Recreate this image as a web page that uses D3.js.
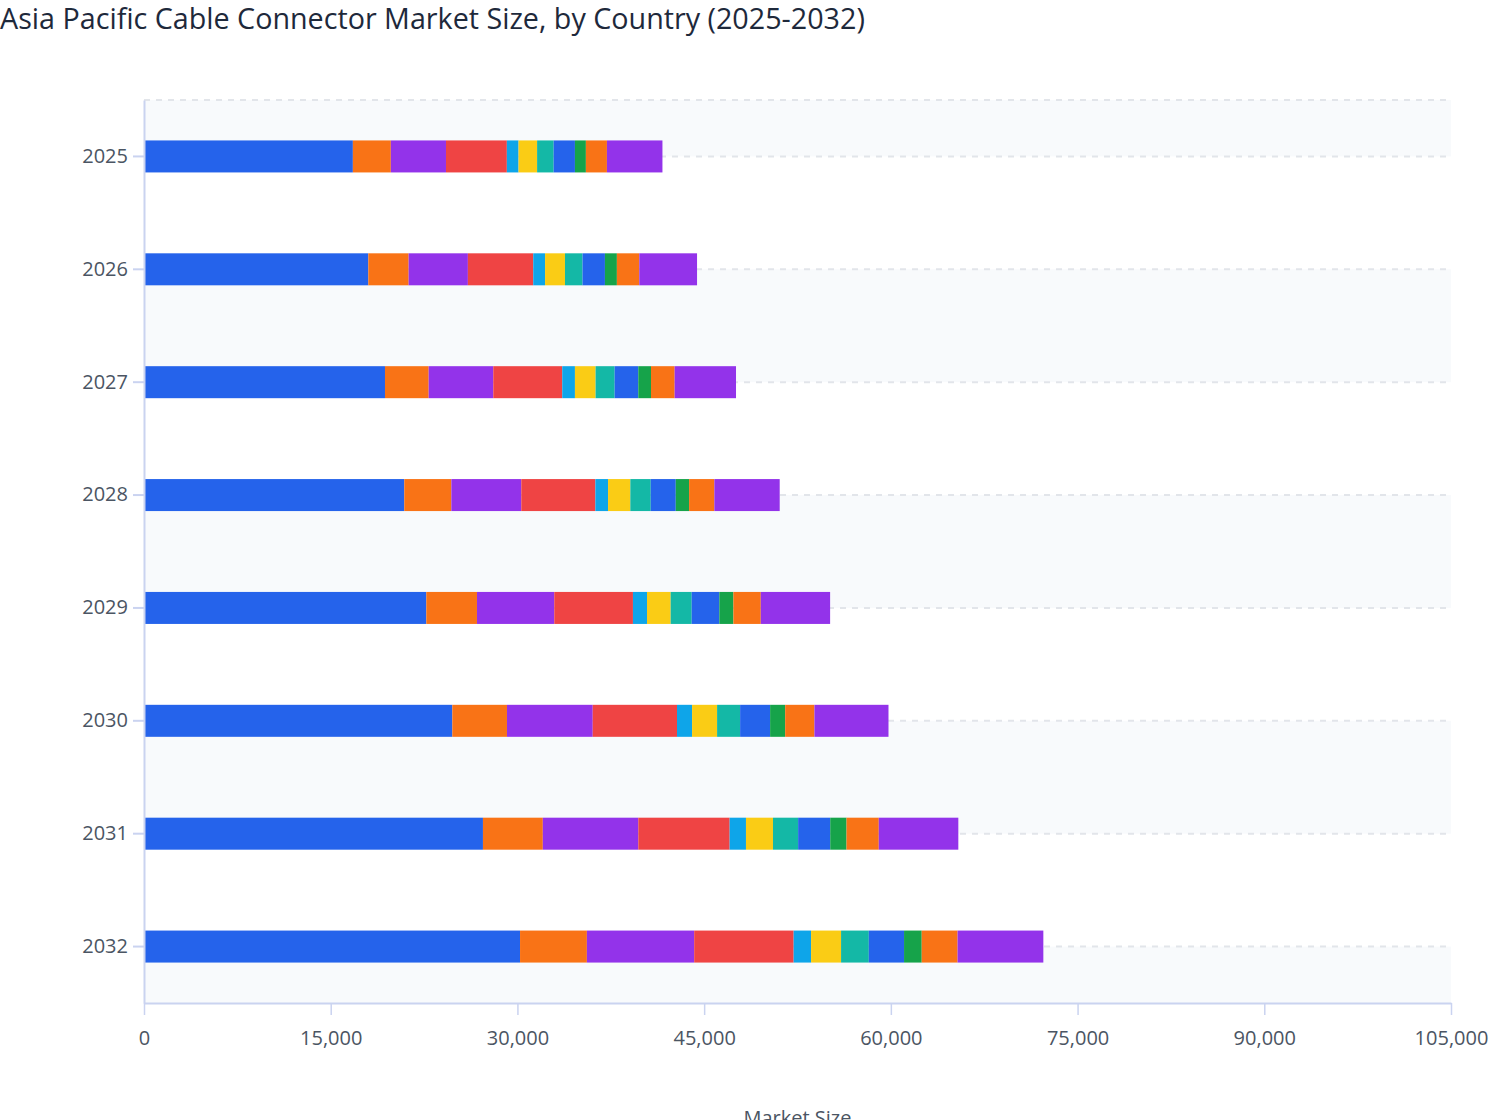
<!DOCTYPE html>
<html>
<head>
<meta charset="utf-8">
<title>Asia Pacific Cable Connector Market Size</title>
<script src="https://cdn.jsdelivr.net/npm/d3@7"></script>
<style>
	body { margin:0; background:#ffffff; }
	svg { display:block; font-family:"Open Sans", "Noto Sans", sans-serif; }
</style>
</head>
<body>
<svg id="chart" width="1508" height="1120"></svg>
<script>

// --------------------------------
// chart data
// --------------------------------

var years = ["2025","2026","2027","2028","2029","2030","2031","2032"];

var countries = ["China","Japan","India","South Korea","Australia","Indonesia",
	"Thailand","Malaysia","Vietnam","Philippines","Rest of Asia Pacific"];

var seriesColors = ["#2563eb","#f97316","#9333ea","#ef4444","#0ea5e9","#facc15",
	"#14b8a6","#2563eb","#16a34a","#f97316","#9333ea"];

// one array per country, one value per year
var china       = [16780, 18020, 19360, 20910, 22680, 24770, 27230, 30210];
var japan       = [ 3050,  3240,  3510,  3780,  4070,  4390,  4810,  5370];
var india       = [ 4430,  4760,  5190,  5620,  6210,  6890,  7670,  8620];
var southKorea  = [ 4890,  5250,  5540,  5950,  6320,  6770,  7340,  7990];
var australia   = [  940,   950,  1020,  1020,  1130,  1210,  1310,  1400];
var indonesia   = [ 1490,  1600,  1660,  1790,  1900,  2010,  2170,  2410];
var thailand    = [ 1330,  1410,  1530,  1640,  1690,  1850,  2020,  2230];
var malaysia    = [ 1710,  1800,  1900,  2010,  2220,  2410,  2580,  2830];
var vietnam     = [  880,   960,  1020,  1070,  1130,  1210,  1310,  1420];
var philippines = [ 1690,  1800,  1900,  2030,  2200,  2350,  2590,  2880];
var restOfApac  = [ 4460,  4640,  4930,  5250,  5570,  5950,  6390,  6890];

var seriesValues = [china, japan, india, southKorea, australia, indonesia,
	thailand, malaysia, vietnam, philippines, restOfApac];

var xTicks = [0, 15000, 30000, 45000, 60000, 75000, 90000, 105000];

// --------------------------------
// layout
// --------------------------------

var margin = {left:144, right:57, top:100, bottom:117};
var width  = 1508 - margin.left - margin.right;
var height = 1120 - margin.top - margin.bottom;

var fontFamily = "'Open Sans', 'Noto Sans', sans-serif";

var svg = d3.select("#chart");

// title
svg.append("text")
	.attr("x", 0)
	.attr("y", 29)
	.attr("style", "font-size:28.7px;font-weight:500;fill:#1e293b;")
	.text("Asia Pacific Cable Connector Market Size, by Country (2025-2032)");

var g = svg.append("g")
	.attr("transform", "translate(" + margin.left + "," + margin.top + ")");

// scales
var x = d3.scaleLinear().domain([0, 105000]).range([0, width]);
var y = d3.scaleBand().domain(years).range([0, height]).paddingInner(0).paddingOuter(0);
var barHeight = 32;

// --------------------------------
// rows for stacking
// --------------------------------

var rows = years.map(function(year, i){
	var row = {year:year};
	countries.forEach(function(c, k){ row[c] = seriesValues[k][i]; });
	return row;
});

var stacked = d3.stack().keys(countries)(rows);

// --------------------------------------------------
// split areas & split lines at the category centers
// --------------------------------------------------

var splitY = [0].concat(years.map(function(d){ return y(d) + y.bandwidth()/2; })).concat([height]);

for (var i = 0; i < splitY.length - 1; i++){
	if (i % 2 == 0){
		g.append("rect")
			.attr("x", 0)
			.attr("y", splitY[i])
			.attr("width", width)
			.attr("height", splitY[i+1] - splitY[i])
			.attr("fill", "#f8fafc");
	}
}

g.selectAll("line.split")
	.data(splitY.slice(0, splitY.length - 1))
	.enter().append("line")
	.attr("class", "split")
	.attr("x1", 0)
	.attr("x2", width)
	.attr("y1", function(d){ return d; })
	.attr("y2", function(d){ return d; })
	.attr("stroke", "#e2e5ea")
	.attr("stroke-width", 2)
	.attr("stroke-dasharray", "6,6");

// --------------------------------
// the stacked bars
// --------------------------------

var layer = g.selectAll("g.layer")
	.data(stacked)
	.enter().append("g")
	.attr("class", "layer")
	.attr("fill", function(d, k){ return seriesColors[k]; });

layer.selectAll("rect")
	.data(function(d){ return d; })
	.enter().append("rect")
	.attr("x", function(d){ return x(d[0]); })
	.attr("y", function(d){ return y(d.data.year) + y.bandwidth()/2 - barHeight/2; })
	.attr("width", function(d){ return x(d[1]) - x(d[0]); })
	.attr("height", barHeight);

// --------------------------------
// axes
// --------------------------------

var axisColor = "#cad3f0";
var labelStyle = "font-size:20px;fill:#4b5563;";

// y axis
var yAxis = g.append("g")
	.call(d3.axisLeft(y).tickSize(11).tickSizeOuter(0).tickPadding(5))
	.attr("font-family", fontFamily);
yAxis.select(".domain").attr("stroke", axisColor).attr("stroke-width", 2);
yAxis.selectAll(".tick line").attr("stroke", axisColor).attr("stroke-width", 2);
yAxis.selectAll(".tick text").attr("style", labelStyle);

// x axis
var xAxis = g.append("g")
	.attr("transform", "translate(0," + height + ")")
	.call(d3.axisBottom(x).tickValues(xTicks).tickSize(12).tickSizeOuter(0).tickPadding(16).tickFormat(d3.format(",")))
	.attr("font-family", fontFamily);
xAxis.select(".domain").attr("stroke", axisColor).attr("stroke-width", 2);
xAxis.selectAll(".tick line").attr("stroke", axisColor).attr("stroke-width", 1.5);
xAxis.selectAll(".tick text").attr("style", labelStyle);

// axis title
svg.append("text")
	.attr("x", margin.left + width/2)
	.attr("y", 1125)
	.attr("text-anchor", "middle")
	.attr("style", labelStyle)
	.text("Market Size");

</script>
</body>
</html>
